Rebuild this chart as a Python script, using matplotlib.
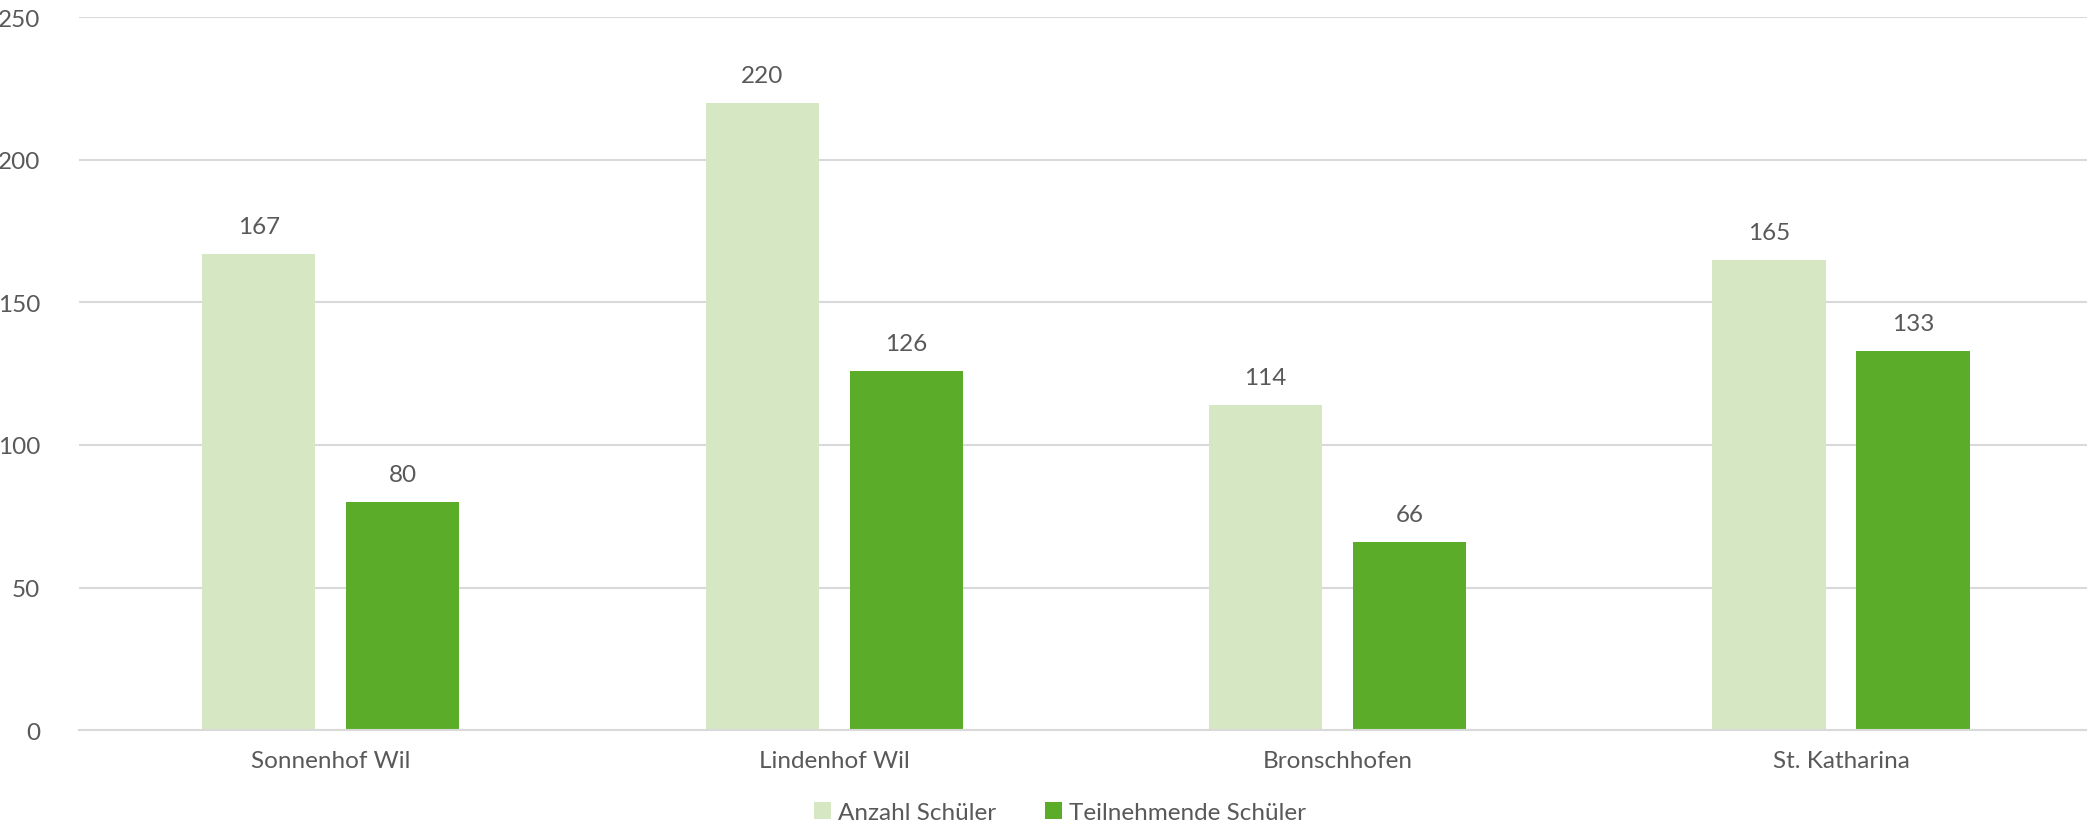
import matplotlib.pyplot as plt
import numpy as np

schools = ['Sonnenhof Wil', 'Lindenhof Wil', 'Bronschhofen', 'St. Katharina']
anzahl = [167, 220, 114, 165]
teilnehmende = [80, 126, 66, 133]

plt.rcParams['font.family'] = ['Lato', 'DejaVu Sans']
text_color = '#595959'

fig = plt.figure(figsize=(20.87, 8.28), dpi=100)
ax = fig.add_axes([0.0379, 0.117, 0.9648, 0.861])

x = np.arange(len(schools))
width = 0.225
offset = 0.143

bars1 = ax.bar(x - offset, anzahl, width, color='#d6e7c4', label='Anzahl Schüler', zorder=2)
bars2 = ax.bar(x + offset, teilnehmende, width, color='#5bac28', label='Teilnehmende Schüler', zorder=2)

# Value labels above each bar.
for bars in (bars1, bars2):
    ax.bar_label(bars, padding=12, fontsize=17.5, color=text_color)

ax.set_xlim(-0.5, len(schools) - 0.5)
ax.set_ylim(0, 250)
ax.set_yticks(range(0, 251, 50))
ax.set_xticks(x)
ax.set_xticklabels(schools)
ax.tick_params(axis='both', length=0, labelsize=17.5, labelcolor=text_color)
ax.tick_params(axis='x', pad=14)
ax.tick_params(axis='y', pad=28)

ax.grid(axis='y', color='#d9d9d9', linewidth=1.5, zorder=0)
for side in ['top', 'right', 'left']:
    ax.spines[side].set_visible(False)
ax.spines['bottom'].set_color('#d9d9d9')
ax.spines['bottom'].set_linewidth(1.5)

ax.legend(loc='center', bbox_to_anchor=(0.508, 0.018), bbox_transform=fig.transFigure,
          ncol=2, frameon=False, fontsize=17.5, labelcolor=text_color,
          handlelength=0.7, handleheight=0.7, handletextpad=0.3, columnspacing=2.0)

fig.savefig('out.png', dpi=100)
